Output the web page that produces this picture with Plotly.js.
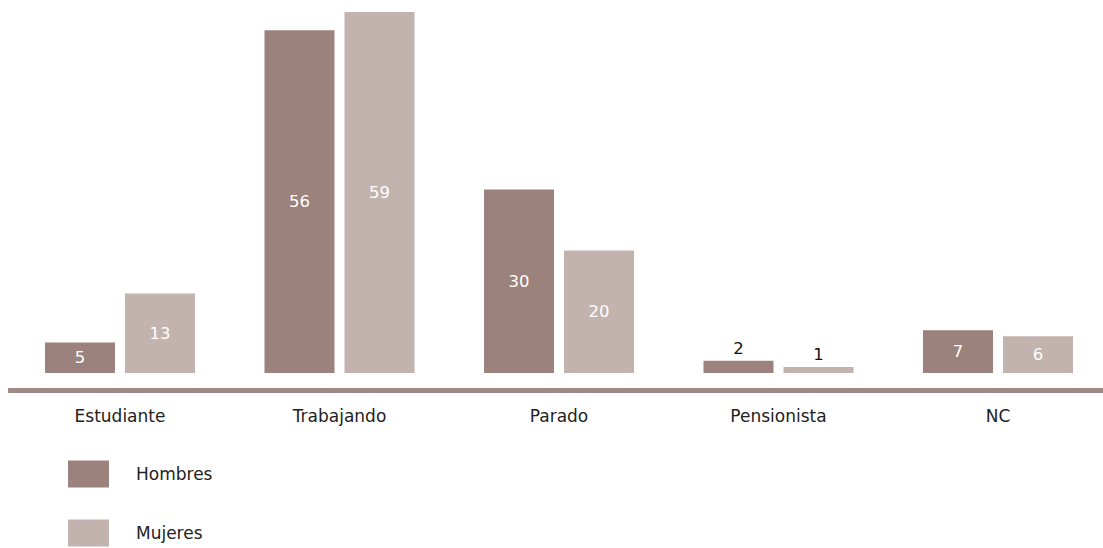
<!DOCTYPE html>
<html>
<head>
<meta charset="utf-8">
<script src="https://cdn.plot.ly/plotly-3.0.1.min.js"></script>
<style>html,body{margin:0;padding:0;background:#fff;}#chart{width:1103px;height:548px;}</style>
</head>
<body>
<div id="chart"></div>
<script>
const categories = ['Estudiante', 'Trabajando', 'Parado', 'Pensionista', 'NC'];
const seriesNames = ['Hombres', 'Mujeres'];
const hombres = [5, 56, 30, 2, 7];
const mujeres = [13, 59, 20, 1, 6];

const colors = ['#9b827c', '#c2b3af'];
const FONT = 'DejaVu Sans, sans-serif';
const W = 1103, H = 548;
const L = 8, B = 160;
const plotW = W - L, plotH = H - B;
const unitPx = 219.5;
const x0 = -(120 - L) / unitPx;
const xr = [x0, x0 + plotW / unitPx];
const yr = [-2.45, 60.95];

function mk(vals, name, color, offset) {
  return {
    type: 'bar', x: categories, y: vals, name: name,
    marker: {color: color, line: {width: 0}},
    width: 0.3189, offset: offset,
    texttemplate: '%{y}', textposition: 'auto',
    insidetextanchor: 'middle',
    insidetextfont: {color: '#ffffff', size: 16.5, family: FONT},
    outsidetextfont: {color: '#111111', size: 16.5, family: FONT},
    hoverinfo: 'skip', showlegend: false, cliponaxis: false
  };
}
const data = [
  mk(hombres, seriesNames[0], colors[0], -0.3417),
  mk(mujeres, seriesNames[1], colors[1], 0.0228)
];

function px2paperX(p) { return (p - L) / plotW; }
function px2paperY(p) { return (plotH - p) / plotH; }

const legendRows = [474, 533];
const shapes = [], annotations = [];
seriesNames.forEach((n, i) => {
  const cy = legendRows[i];
  shapes.push({type: 'rect', xref: 'paper', yref: 'paper',
    x0: px2paperX(68), x1: px2paperX(109), y0: px2paperY(cy - 13.5), y1: px2paperY(cy + 13.5),
    fillcolor: colors[i], line: {width: 0}});
  annotations.push({xref: 'paper', yref: 'paper', x: px2paperX(134), y: px2paperY(cy),
    xanchor: 'left', yanchor: 'middle', text: n, showarrow: false,
    font: {size: 17, color: '#222222', family: FONT}});
});

const layout = {
  width: W, height: H,
  margin: {l: L, r: 0, t: 0, b: B, pad: 0},
  paper_bgcolor: '#ffffff', plot_bgcolor: '#ffffff',
  barmode: 'group',
  font: {family: FONT, size: 17, color: '#222222'},
  xaxis: {type: 'category', range: xr, showgrid: false, zeroline: false,
    showline: true, linecolor: '#a08a85', linewidth: 5, ticks: '',
    ticklabelstandoff: 9,
    tickfont: {size: 17, color: '#222222', family: FONT}, fixedrange: true},
  yaxis: {range: yr, visible: false, showgrid: false, zeroline: false, fixedrange: true},
  shapes: shapes, annotations: annotations,
  showlegend: false
};
Plotly.newPlot('chart', data, layout, {displayModeBar: false, staticPlot: true});
</script>
</body>
</html>
